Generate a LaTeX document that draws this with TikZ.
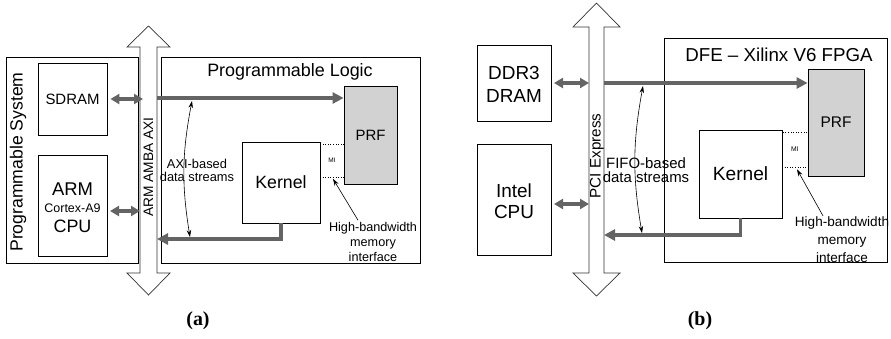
\documentclass[tikz,border=0pt]{standalone}
\usepackage{fontspec}
\setmainfont{Liberation Sans}
\newfontfamily\capfont{Liberation Serif}
\usetikzlibrary{arrows.meta,calc}
\definecolor{arrgray}{RGB}{100,100,100}
\definecolor{prfgray}{RGB}{210,210,210}
\newcommand\fs[2]{\fontsize{#1}{#2}\selectfont}
\tikzset{
  blk/.style={draw=black, line width=0.8bp, inner sep=0pt},
  prfbox/.style={blk, fill=prfgray},
  mibox/.style={draw=black, line width=0.6bp, dotted, inner sep=0pt},
  busline/.style={draw=black!80, line width=0.7bp, fill=white},
  thickarr/.style={draw=arrgray, line width=3.5bp, -{Triangle[length=11bp,width=11bp]}},
  dblarr/.style={draw=arrgray, line width=3.5bp, {Triangle[length=9bp,width=10bp]}-{Triangle[length=9bp,width=10bp]}},
  thinarr/.style={draw=black, line width=0.6bp, -{Stealth[length=7bp,width=4.5bp]}},
  thindbl/.style={draw=black, line width=0.6bp, {Stealth[length=7bp,width=4.5bp]}-{Stealth[length=7bp,width=4.5bp]}},
  txt/.style={inner sep=0pt, align=center},
}
\begin{document}
\begin{tikzpicture}[x=1bp,y=-1bp]
\useasboundingbox (0,0) rectangle (891,338);

% ================= (a) =================
% bus
\draw[busline] (148.5,26) -- (170,47) -- (157,47) -- (157,273) -- (170,273) -- (148.5,295)
  -- (127,273) -- (140,273) -- (140,47) -- (127,47) -- cycle;
\coordinate (aBL) at (140,0);
\coordinate (aBR) at (157,0);
\node[txt, rotate=90, font=\fs{13.8}{16}] (busAT) at (148.5,167) {ARM AMBA AXI};

\node[blk, minimum width=132bp, minimum height=206bp] (psA) at (72,160) {};
\node[txt, rotate=90, font=\fs{17.7}{20}] (psAT) at (18,162) {Programmable System};
\node[blk, minimum width=69bp, minimum height=72bp, font=\fs{15}{18}] (sdram) at (72.5,99) {SDRAM};
\node[blk, minimum width=69bp, minimum height=101bp] (armA) at (72.5,205.5) {};
\node[txt, font=\fs{18.5}{20}] (armT1) at (72.5,189) {ARM};
\node[txt, font=\fs{12.5}{14}] (armT2) at (72.5,208) {Cortex-A9};
\node[txt, font=\fs{18}{20}] (armT3) at (72.5,226) {CPU};

\node[blk, minimum width=259bp, minimum height=206bp] (plA) at (290.5,160) {};
\node[txt, font=\fs{18}{20}] (plAT) at (290,72) {Programmable Logic};
\node[prfbox, minimum width=53bp, minimum height=98bp, font=\fs{15}{18}] (prfA) at (370.5,135) {PRF};
\node[blk, minimum width=78bp, minimum height=81bp, font=\fs{17.8}{20}] (kerA) at (281,182.5) {Kernel};
\node[mibox, minimum width=24bp, minimum height=33bp, font=\fs{6.5}{8}] (miA) at (332,160.5) {MI};

\draw[dblarr] ([xshift=3bp]sdram.east) -- ([xshift=3bp]sdram.east -| aBL);
\coordinate (armArr) at (107,211);
\draw[dblarr] ([xshift=3bp]armArr) -- (armArr -| aBL);

\coordinate (aTop) at (157,98);
\draw[thickarr] (aTop) -- (aTop -| prfA.west);
\coordinate (aBot) at (157,239);
\draw[thickarr] (kerA.south) |- (aBot);

\coordinate (aS1) at (192,101);
\coordinate (aS2) at (190,237);
\draw[thindbl] (aS1) to[bend right=10] (aS2);
\node[txt, font=\fs{12.9}{13}] (axiT) at (197,170) {AXI-based\\data streams};

\node[txt, font=\fs{12.7}{15}] (hbA) at (373,242) {High-bandwidth\\memory\\interface};
\draw[thinarr] ($(hbA.north)+(-15,-2)$) -- ($(miA.south)+(1,1.5)$);

\node[txt, font=\bfseries\capfont\fs{20}{22}] (capA) at (198,321) {(a)};

% ================= (b) =================
\draw[busline] (596.5,3) -- (620,27) -- (604,27) -- (604,273) -- (620,273) -- (596.5,296)
  -- (573,273) -- (589,273) -- (589,27) -- (573,27) -- cycle;
\coordinate (bBL) at (589,0);
\coordinate (bBR) at (604,0);
\node[txt, rotate=90, font=\fs{15.3}{17}] (busBT) at (597,156) {PCI Express};

\node[blk, minimum width=74bp, minimum height=76bp] (ddr) at (514,83) {};
\node[txt, font=\fs{19}{23}] (ddrT) at (514,84) {DDR3\\DRAM};
\node[blk, minimum width=74bp, minimum height=111bp] (intel) at (514,199.5) {};
\node[txt, font=\fs{19}{21}] (intelT) at (514,201) {Intel\\CPU};

\node[blk, minimum width=223bp, minimum height=224bp] (dfe) at (775.5,150) {};
\node[txt, font=\fs{18.8}{20}] (dfeT) at (779,55) {DFE -- Xilinx V6 FPGA};
\node[prfbox, minimum width=56bp, minimum height=107bp, font=\fs{15.5}{18}] (prfB) at (836,122.5) {PRF};
\node[blk, minimum width=83bp, minimum height=88bp, font=\fs{19.2}{21}] (kerB) at (740.5,174) {Kernel};
\node[mibox, minimum width=26bp, minimum height=35bp, font=\fs{6.8}{8}] (miB) at (795,149.5) {MI};

\coordinate (ddrArr) at (551,83);
\draw[dblarr] ([xshift=3bp]ddrArr) -- (ddrArr -| bBL);
\coordinate (intArr) at (551,204);
\draw[dblarr] ([xshift=3bp]intArr) -- (intArr -| bBL);

\coordinate (bTop) at (604,83);
\draw[thickarr] (bTop) -- (bTop -| prfB.west);
\coordinate (bBot) at (604,235);
\draw[thickarr] (kerB.south) |- (bBot);

\coordinate (bS1) at (643,86);
\coordinate (bS2) at (642,233);
\draw[thindbl] (bS1) to[bend right=10] (bS2);
\node[txt, font=\fs{15}{14}] (fifoT) at (646,170) {FIFO-based\\data streams};

\node[txt, font=\fs{13.6}{18}] (hbB) at (842,240) {High-bandwidth\\memory\\interface};
\draw[thinarr] ($(hbB.north)+(-19,-1)$) -- ($(miB.south)+(2,2)$);

\node[txt, font=\bfseries\capfont\fs{20}{22}] (capB) at (700,321) {(b)};
\end{tikzpicture}
\end{document}
